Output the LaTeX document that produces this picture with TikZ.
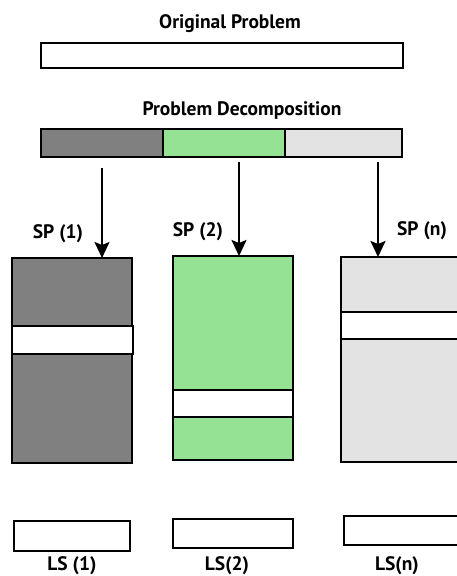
\documentclass[tikz,border=0pt]{standalone}
\usepackage{fontspec}
\setmainfont{PT Sans}
\usetikzlibrary{arrows.meta}
\definecolor{darkseg}{HTML}{808080}
\definecolor{greenseg}{HTML}{95E295}
\definecolor{lightseg}{HTML}{E3E3E3}
\begin{document}
\begin{tikzpicture}[x=1pt,y=-1pt,
  box/.style={draw=black,line width=2.4pt,inner sep=0pt,outer sep=0pt,anchor=north west},
  lbl/.style={font=\fontsize{19.5}{22}\selectfont\bfseries,inner sep=0pt,anchor=base},
  arr/.style={line width=2.2pt,-{Stealth[length=16pt,width=15pt,inset=3pt]}}]
\clip (0,0) rectangle (457,576);
\fill[white] (0,0) rectangle (457,576);
% titles
\node[lbl] (t1) at (230,28) {Original Problem};
\node[lbl] (t2) at (242,115) {Problem Decomposition};
% original problem bar
\node[box,fill=white,minimum width=362pt,minimum height=25pt] (orig) at (41,43) {};
% decomposition bar
\node[box,fill=darkseg,minimum width=122pt,minimum height=28pt] (d1) at (41,129) {};
\node[box,fill=greenseg,minimum width=122pt,minimum height=28pt] (d2) at (163,129) {};
\node[box,fill=lightseg,minimum width=117pt,minimum height=28pt] (d3) at (285,129) {};
% subproblem boxes
\node[box,fill=darkseg,minimum width=120pt,minimum height=205pt] (b1) at (12,258) {};
\node[box,fill=white,minimum width=121pt,minimum height=28pt] (w1) at (12,326) {};
\node[box,fill=greenseg,minimum width=120pt,minimum height=204pt] (b2) at (173,256) {};
\node[box,fill=white,minimum width=120pt,minimum height=27pt] (w2) at (173,390) {};
\node[box,fill=lightseg,minimum width=130pt,minimum height=205pt] (b3) at (341,257) {};
\node[box,fill=white,minimum width=130pt,minimum height=27pt] (w3) at (341,312) {};
% arrows
\coordinate (s1) at (102,168);
\coordinate (s2) at (239,162);
\coordinate (s3) at (378,162);
\draw[arr] (s1) -- (s1 |- b1.north);
\draw[arr] (s2) -- (s2 |- b2.north);
\draw[arr] (s3) -- (s3 |- b3.north);
% SP labels
\node[lbl] (sp1) at (58,238) {SP (1)};
\node[lbl] (sp2) at (198,236) {SP (2)};
\node[lbl] (spn) at (422,235) {SP (n)};
% LS boxes
\node[box,fill=white,minimum width=116pt,minimum height=30pt] (ls1) at (14,521) {};
\node[box,fill=white,minimum width=120pt,minimum height=29pt] (ls2) at (173,519) {};
\node[box,fill=white,minimum width=130pt,minimum height=29pt] (ls3) at (344,516) {};
% LS labels
\node[lbl] (l1) at (72,570) {LS (1)};
\node[lbl] (l2) at (227,570) {LS(2)};
\node[lbl] (l3) at (397,570) {LS(n)};
\end{tikzpicture}
\end{document}
